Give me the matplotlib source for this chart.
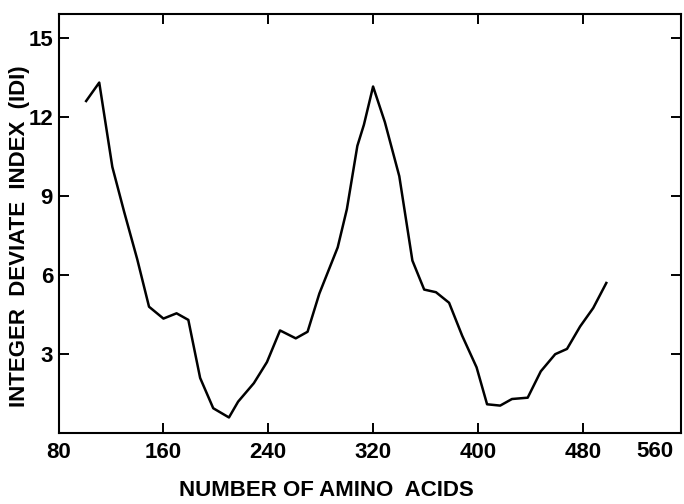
import matplotlib
matplotlib.use("Agg")
from matplotlib import pyplot as plt

# dados
amino_acids = [101, 111, 121, 130, 140, 149, 160, 170, 179, 188, 198, 210, 217, 229,
               239, 249, 261, 270, 279, 293, 300, 308, 313, 320, 329, 340, 350, 359,
               368, 378, 388, 399, 407, 417, 426, 438, 448, 459, 468, 478, 488, 498]
idi = [12.6, 13.3, 10.1, 8.4, 6.6, 4.8, 4.35, 4.55, 4.3, 2.1, 0.95, 0.6, 1.2, 1.9,
       2.7, 3.9, 3.6, 3.85, 5.3, 7.05, 8.5, 10.9, 11.7, 13.15, 11.8, 9.75, 6.55, 5.45,
       5.35, 4.95, 3.7, 2.5, 1.1, 1.05, 1.3, 1.35, 2.35, 3.0, 3.2, 4.05, 4.75, 5.7]

x_ticks = [80, 160, 240, 320, 400, 480]
y_ticks = [3, 6, 9, 12, 15]

plt.rcParams['font.family'] = ['Liberation Sans', 'DejaVu Sans']
plt.rcParams['font.weight'] = 'bold'

fig = plt.figure(figsize=(6.84, 5.04), dpi=100)
ax = fig.add_axes([0.0857, 0.1403, 0.9099, 0.8319])

ax.plot(amino_acids, idi, color='black', linewidth=1.8)

ax.set_xlim(80, 555)
ax.set_ylim(0, 15.9)
ax.set_xticks(x_ticks)
ax.set_yticks(y_ticks)
ax.set_xticklabels([str(v) for v in x_ticks], fontsize=16, fontweight='bold')
ax.set_yticklabels([str(v) for v in y_ticks], fontsize=16, fontweight='bold')

for s in ax.spines.values():
    s.set_linewidth(1.5)
ax.tick_params(direction='in', length=7, width=1.4, top=True, right=True)
ax.tick_params(axis='x', pad=6)
ax.tick_params(axis='y', pad=4)

# o rótulo 560 fica deslocado para dentro no original
ax.text(0.958, -0.018, '560', transform=ax.transAxes, ha='center', va='top',
        fontsize=16, fontweight='bold')

# títulos dos eixos posicionados à mão (em pixels da figura)
fig.text(326 / 684, 1 - 491 / 504, 'NUMBER OF AMINO  ACIDS', ha='center', va='center',
         fontsize=16, fontweight='bold')
fig.text(20 / 684, 1 - 236 / 504, 'INTEGER  DEVIATE  INDEX  (IDI)', ha='center', va='center',
         rotation=90, fontsize=16, fontweight='bold')

fig.savefig('out.png', dpi=100)
